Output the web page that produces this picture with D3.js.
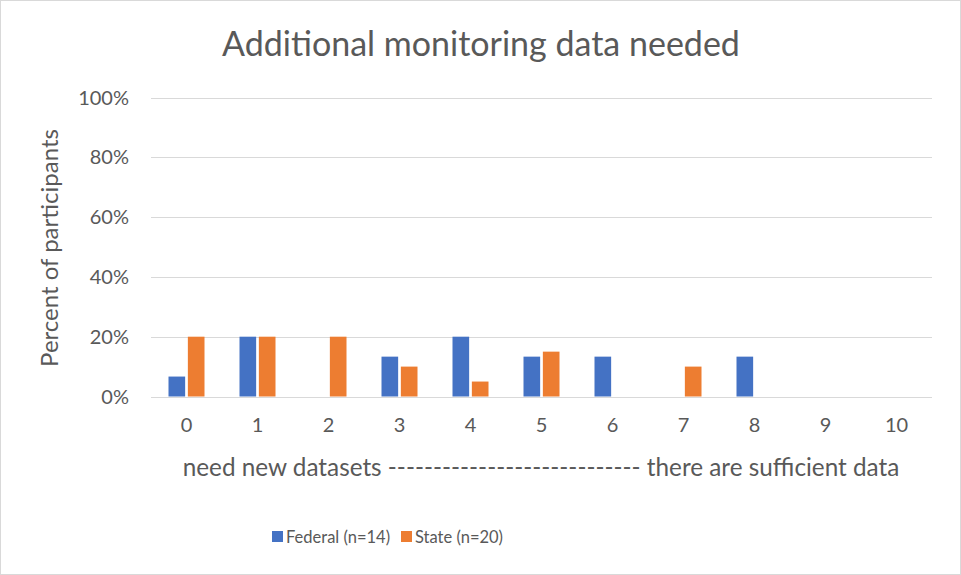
<!DOCTYPE html>
<html>
<head>
<meta charset="utf-8">
<script src="https://cdn.jsdelivr.net/npm/d3@7"></script>
<style>
  body { margin: 0; background: #fff; }
  svg { font-family: Lato, "Open Sans", sans-serif; }
</style>
</head>
<body>
<svg width="961" height="575"></svg>
<script>
// chart data
const categories = ["0", "1", "2", "3", "4", "5", "6", "7", "8", "9", "10"];
const federal = [6.67, 20, 0, 13.33, 20, 13.33, 13.33, 0, 13.33, 0, 0];
const state = [20, 20, 20, 10, 5, 15, 0, 10, 0, 0, 0];
const seriesNames = ["Federal (n=14)", "State (n=20)"];
const yTicks = [0, 20, 40, 60, 80, 100];

const colors = ["#4472c4", "#ed7d31"];

var svg = d3.select("svg"),
    width = +svg.attr("width"),
    height = +svg.attr("height");

// outer border
svg.append("rect")
    .attr("x", 0.5).attr("y", 0.5)
    .attr("width", width - 1).attr("height", height - 1)
    .attr("fill", "#fff")
    .attr("stroke", "#d9d9d9");

var x = d3.scaleBand()
    .domain(categories)
    .range([151, 932]);

var y = d3.scaleLinear()
    .domain([0, 100])
    .range([396.5, 97.5]);

var inner = d3.scaleBand()
    .domain([0, 1])
    .range([-18, 18])
    .paddingInner(0.14);

// gridlines
svg.append("g")
    .selectAll("line")
    .data(yTicks)
    .enter().append("line")
    .attr("x1", 151).attr("x2", 932)
    .attr("y1", d => Math.round(y(d)) + 0.5)
    .attr("y2", d => Math.round(y(d)) + 0.5)
    .attr("stroke", "#d9d9d9")
    .attr("stroke-width", 1.2);

// y tick labels
svg.append("g")
    .selectAll("text")
    .data(yTicks)
    .enter().append("text")
    .attr("x", 129)
    .attr("y", d => y(d))
    .attr("dy", "0.35em")
    .attr("text-anchor", "end")
    .attr("fill", "#595959")
    .style("font-size", "20px")
    .text(d => d + "%");

// bars
var rows = categories.map((c, i) => ({ cat: c, vals: [federal[i], state[i]] }));
var groups = svg.append("g")
    .selectAll("g")
    .data(rows)
    .enter().append("g")
    .attr("transform", d => "translate(" + (x(d.cat) + x.bandwidth() / 2) + ",0)");

groups.selectAll("rect")
    .data(d => d.vals.map((v, k) => ({ v: v, k: k })).filter(e => e.v > 0))
    .enter().append("rect")
    .attr("x", d => inner(d.k))
    .attr("width", inner.bandwidth())
    .attr("y", d => y(d.v))
    .attr("height", d => y(0) - y(d.v))
    .attr("fill", d => colors[d.k]);

// x tick labels
svg.append("g")
    .selectAll("text")
    .data(categories)
    .enter().append("text")
    .attr("x", d => x(d) + x.bandwidth() / 2)
    .attr("y", 432)
    .attr("text-anchor", "middle")
    .attr("fill", "#595959")
    .style("font-size", "20px")
    .text(d => d);

// x axis title
svg.append("text")
    .attr("x", 541)
    .attr("y", 476)
    .attr("text-anchor", "middle")
    .attr("fill", "#595959")
    .style("font-size", "24.3px")
    .text("need new datasets  ---------------------------- there are sufficient data");

// y axis title
svg.append("text")
    .attr("transform", "translate(58,248) rotate(-90)")
    .attr("text-anchor", "middle")
    .attr("fill", "#595959")
    .style("font-size", "24px")
    .text("Percent of participants");

// chart title
svg.append("text")
    .attr("x", 481)
    .attr("y", 56)
    .attr("text-anchor", "middle")
    .attr("fill", "#595959")
    .style("font-size", "34px")
    .text("Additional monitoring data needed");

// legend
var legendX = [272, 401];
var legend = svg.append("g")
    .selectAll("g")
    .data(seriesNames)
    .enter().append("g")
    .attr("transform", (d, i) => "translate(" + legendX[i] + ",531)");

legend.append("rect")
    .attr("width", 11).attr("height", 11)
    .attr("fill", (d, i) => colors[i]);

legend.append("text")
    .attr("x", 14)
    .attr("y", 6)
    .attr("dy", "0.35em")
    .attr("fill", "#595959")
    .style("font-size", "16.5px")
    .text(d => d);
</script>
</body>
</html>
